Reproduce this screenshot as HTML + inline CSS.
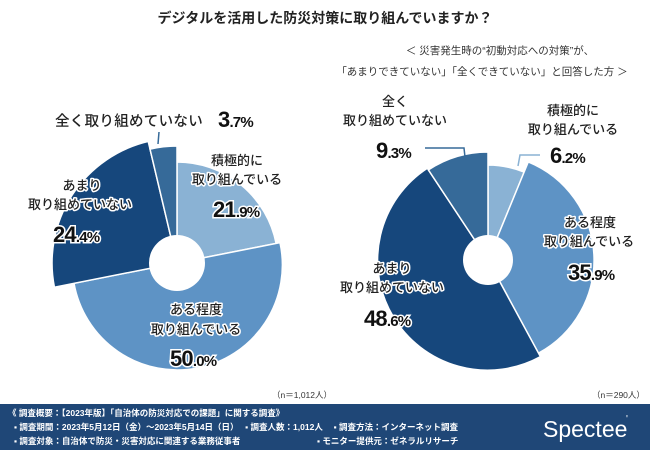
<!DOCTYPE html>
<html><head><meta charset="utf-8"><style>
html,body{margin:0;padding:0;background:#fff}
svg{display:block}
text{font-family:"Liberation Sans","Noto Sans CJK JP",sans-serif}
.lb{font-size:13px;fill:#222;stroke:#fff;stroke-width:3px;paint-order:stroke;stroke-linejoin:round;font-weight:500}
.pc{font-size:22px;font-weight:bold;fill:#111;stroke:#fff;stroke-width:3px;paint-order:stroke;letter-spacing:-0.8px}
.ps{font-size:15px}
.ft{font-size:8.5px;fill:#fff;font-weight:bold}
</style></head><body>
<svg width="650" height="450" viewBox="0 0 650 450">
<rect width="650" height="450" fill="#fff"/>
<text x="325" y="23" text-anchor="middle" font-size="14" font-weight="bold" fill="#222">デジタルを活用した防災対策に取り組んでいますか？</text>
<text x="500" y="54" text-anchor="middle" font-size="10.5" fill="#333">＜ 災害発生時の“初動対応への対策”が、</text>
<text x="482" y="75" text-anchor="middle" font-size="10.5" fill="#333">「あまりできていない」「全くできていない」と回答した方 ＞</text>

<g stroke="#fff" stroke-width="1.5">
<path d="M177,263 L177,162 A101,101 0 0 1 276.1,243.4 Z" fill="#8ab2d4"/>
<path d="M177,263 L280,242.7 A105,105 0 1 1 74,283.3 Z" fill="#5e93c5"/>
<path d="M177,263 L54.4,287.2 A125,125 0 0 1 148.2,141.4 Z" fill="#16477c"/>
<path d="M177,263 L150,149.1 A117,117 0 0 1 177,146 Z" fill="#366a99"/>
</g>
<circle cx="177" cy="263" r="28" fill="#fff"/>
<line x1="158" y1="144" x2="159" y2="132" stroke="#366a99" stroke-width="1.5"/>

<g stroke="#fff" stroke-width="1.5">
<path d="M488,260 L488,165 A95,95 0 0 1 524.1,172.1 Z" fill="#8ab2d4"/>
<path d="M488,260 L528.3,161.9 A106,106 0 0 1 538.5,353.2 Z" fill="#5e93c5"/>
<path d="M488,260 L540.4,356.7 A110,110 0 0 1 427.3,168.2 Z" fill="#16477c"/>
<path d="M488,260 L428.4,169.9 A108,108 0 0 1 488,152 Z" fill="#366a99"/>
</g>
<circle cx="488" cy="260" r="25" fill="#fff"/>
<polyline points="425,148 464,148 465,157" fill="none" stroke="#366a99" stroke-width="1.5"/>
<polyline points="540,155 520,155 518,166" fill="none" stroke="#8ab2d4" stroke-width="1.5"/>

<!-- left labels -->
<text x="55" y="126" class="lb" style="font-size:14.5px;letter-spacing:0.3px">全く取り組めていない</text>
<text x="218" y="127" class="pc">3<tspan class="ps">.7%</tspan></text>
<text x="237" y="165" text-anchor="middle" class="lb">積極的に</text>
<text x="237" y="184" text-anchor="middle" class="lb">取り組んでいる</text>
<text x="213" y="217" class="pc">21<tspan class="ps">.9%</tspan></text>
<text x="82" y="190" text-anchor="middle" class="lb">あまり</text>
<text x="80" y="209" text-anchor="middle" class="lb">取り組めていない</text>
<text x="53" y="242" class="pc">24<tspan class="ps">.4%</tspan></text>
<text x="196" y="314" text-anchor="middle" class="lb">ある程度</text>
<text x="196" y="334" text-anchor="middle" class="lb">取り組んでいる</text>
<text x="170" y="366" class="pc">50<tspan class="ps">.0%</tspan></text>

<!-- right labels -->
<text x="395" y="106" text-anchor="middle" class="lb">全く</text>
<text x="395" y="125" text-anchor="middle" class="lb">取り組めていない</text>
<text x="376" y="158" class="pc">9<tspan class="ps">.3%</tspan></text>
<text x="573" y="115" text-anchor="middle" class="lb">積極的に</text>
<text x="573" y="134" text-anchor="middle" class="lb">取り組んでいる</text>
<text x="550" y="163" class="pc">6<tspan class="ps">.2%</tspan></text>
<text x="590" y="227" text-anchor="middle" class="lb">ある程度</text>
<text x="589" y="246" text-anchor="middle" class="lb">取り組んでいる</text>
<text x="568" y="280" class="pc">35<tspan class="ps">.9%</tspan></text>
<text x="392" y="273" text-anchor="middle" class="lb">あまり</text>
<text x="392" y="292" text-anchor="middle" class="lb">取り組めていない</text>
<text x="364" y="326" class="pc">48<tspan class="ps">.6%</tspan></text>

<text x="272" y="398" font-size="8.5" fill="#333">（n＝1,012人）</text>
<text x="592" y="398" font-size="8.5" fill="#333">（n＝290人）</text>

<rect x="0" y="404" width="650" height="46" fill="#1f4777"/>
<text x="8" y="416" class="ft">《 調査概要：【2023年版】「自治体の防災対応での課題」に関する調査》</text>
<text x="14" y="430" class="ft">▪ 調査期間：2023年5月12日（金）～2023年5月14日（日）　 ▪ 調査人数：1,012人　 ▪ 調査方法：インターネット調査</text>
<text x="14" y="444" class="ft">▪ 調査対象：自治体で防災・災害対応に関連する業務従事者</text>
<text x="317" y="444" class="ft">▪ モニター提供元：ゼネラルリサーチ</text>
<text x="543" y="437" font-size="23" fill="#fff" font-family="Liberation Sans,sans-serif">Spectee</text>
<text x="626" y="422" font-size="10" fill="#fff">'</text>
</svg>
</body></html>
